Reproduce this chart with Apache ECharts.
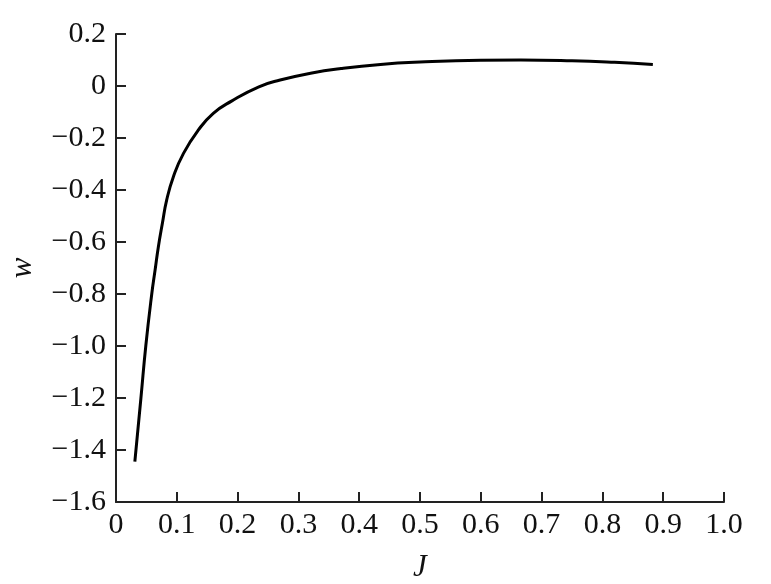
<!DOCTYPE html>
<html>
<head>
<meta charset="utf-8">
<script src="https://cdn.jsdelivr.net/npm/echarts@6/dist/echarts.min.js"></script>
<style>html,body{margin:0;padding:0;background:#fff;}#c{width:771px;height:584px;}</style>
</head>
<body>
<div id="c"></div>
<script>
const jValues = [0.031, 0.041, 0.049, 0.0588, 0.0643, 0.0697, 0.0763, 0.0834, 0.0944, 0.111, 0.1356, 0.160, 0.190, 0.235, 0.270, 0.320, 0.370, 0.435, 0.500, 0.600, 0.666, 0.750, 0.820, 0.883];
const wValues = [-1.445, -1.2, -1.0, -0.8, -0.708, -0.618, -0.528, -0.438, -0.349, -0.259, -0.169, -0.105, -0.058, -0.003, 0.023, 0.049, 0.067, 0.083, 0.092, 0.099, 0.100, 0.097, 0.091, 0.083];
const xTicks = ['0', '0.1', '0.2', '0.3', '0.4', '0.5', '0.6', '0.7', '0.8', '0.9', '1.0'];
const yTicks = ['0.2', '0', '−0.2', '−0.4', '−0.6', '−0.8', '−1.0', '−1.2', '−1.4', '−1.6'];

const data = jValues.map((j, i) => [j, wValues[i]]);
const font = "'Liberation Serif', 'Times New Roman', serif";
const axisColor = '#222';

const chart = echarts.init(document.getElementById('c'), null, {renderer: 'canvas'});
chart.setOption({
  backgroundColor: '#fff',
  animation: false,
  grid: {left: 116, right: 47, top: 34, bottom: 82, containLabel: false, outerBoundsMode: 'none'},
  xAxis: {
    type: 'value', min: 0, max: 1, interval: 0.1,
    name: 'J', nameLocation: 'middle', nameGap: 50,
    nameTextStyle: {fontFamily: font, fontSize: 31, fontStyle: 'italic', color: '#111'},
    axisLine: {show: true, onZero: false, lineStyle: {color: axisColor, width: 2}},
    axisTick: {show: true, inside: true, length: 10, lineStyle: {color: axisColor, width: 2}},
    splitLine: {show: false},
    axisLabel: {
      fontFamily: font, fontSize: 30, color: '#111', margin: 8,
      formatter: v => { const i = Math.round(v * 10); return xTicks[i] !== undefined ? xTicks[i] : ''; }
    }
  },
  yAxis: {
    type: 'value', min: -1.6, max: 0.2, interval: 0.2,
    name: 'w', nameLocation: 'middle', nameGap: 78, nameRotate: 90,
    nameTextStyle: {fontFamily: font, fontSize: 31, fontStyle: 'italic', color: '#111'},
    axisLine: {show: true, onZero: false, lineStyle: {color: axisColor, width: 2}},
    axisTick: {show: true, inside: true, length: 10, lineStyle: {color: axisColor, width: 2}},
    splitLine: {show: false},
    axisLabel: {
      fontFamily: font, fontSize: 30, color: '#111', margin: 10,
      formatter: v => { const i = Math.round((0.2 - v) / 0.2); return yTicks[i] !== undefined ? yTicks[i] : ''; }
    }
  },
  series: [{
    type: 'line', data: data, showSymbol: false, smooth: 0.5,
    lineStyle: {color: '#000', width: 3}
  }]
});
</script>
</body>
</html>
